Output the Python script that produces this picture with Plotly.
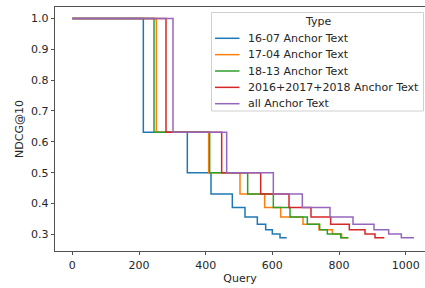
import plotly.graph_objects as go

# NDCG@10 levels (1/log2(rank+1))
levels = [1.0, 0.631, 0.5, 0.431, 0.387, 0.356, 0.333, 0.315, 0.301, 0.289]

series_names = [
    "16-07 Anchor Text",
    "17-04 Anchor Text",
    "18-13 Anchor Text",
    "2016+2017+2018 Anchor Text",
    "all Anchor Text",
]

# query index where each successive level begins (after the first), then the last query
q_16_07 = [0, 213, 345, 416, 480, 518, 555, 580, 600, 623, 643]
q_17_04 = [0, 252, 409, 503, 577, 625, 692, 740, 780, 808, 828]
q_18_13 = [0, 245, 412, 526, 603, 653, 705, 742, 765, 805, 828]
q_combined = [0, 281, 448, 565, 650, 716, 775, 831, 878, 908, 936]
q_all = [0, 302, 463, 603, 690, 773, 842, 905, 949, 987, 1025]

series_queries = [q_16_07, q_17_04, q_18_13, q_combined, q_all]
colors = ["#1f77b4", "#ff7f0e", "#2ca02c", "#d62728", "#9467bd"]

x_ticks = [0, 200, 400, 600, 800, 1000]
y_ticks = [0.3, 0.4, 0.5, 0.6, 0.7, 0.8, 0.9, 1.0]
legend_title = "Type"

W, H = 425, 288
ML, MR, MT, MB = 55, 0, 7, 37
PW, PH = W - ML - MR, H - MT - MB

fig = go.Figure()
for name, qs, c in zip(series_names, series_queries, colors):
    ys = levels + [levels[-1]]
    fig.add_trace(go.Scatter(
        x=qs, y=ys, mode="lines", name=name,
        line=dict(color=c, width=1.5, shape="hv"),
        showlegend=False,
    ))

font = dict(family="DejaVu Sans", size=11, color="#262626")


def px_x(p):
    return (p - ML) / PW


def px_y(p):
    return (H - MB - p) / PH


# legend (drawn in paper space, mimicking matplotlib's legend box)
shapes = []
annotations = []
box_l, box_r, box_t, box_b = 211.5, 423.5, 12.5, 111
shapes.append(dict(
    type="rect", xref="paper", yref="paper",
    x0=px_x(box_l), x1=px_x(box_r), y0=px_y(box_b), y1=px_y(box_t),
    line=dict(color="#d0d0d0", width=1), fillcolor="rgba(255,255,255,0.8)",
    layer="above",
))
annotations.append(dict(
    text=legend_title, xref="paper", yref="paper",
    x=px_x(318), y=px_y(21.7), xanchor="center", yanchor="middle",
    showarrow=False, font=font,
))
entry_y0, entry_dy = 38.3, 16.35
for i, (name, c) in enumerate(zip(series_names, colors)):
    yy = entry_y0 + i * entry_dy
    shapes.append(dict(
        type="line", xref="paper", yref="paper",
        x0=px_x(215), x1=px_x(239.5), y0=px_y(yy), y1=px_y(yy),
        line=dict(color=c, width=1.5), layer="above",
    ))
    annotations.append(dict(
        text=name, xref="paper", yref="paper",
        x=px_x(246), y=px_y(yy), xanchor="left", yanchor="middle",
        showarrow=False, font=font,
    ))

fig.update_layout(
    width=W, height=H,
    margin=dict(l=ML, r=MR, t=MT, b=MB),
    paper_bgcolor="white", plot_bgcolor="white",
    font=font,
    showlegend=False,
    shapes=shapes,
    annotations=annotations,
    xaxis=dict(
        range=[-52, 1058],
        tickmode="array", tickvals=x_ticks,
        ticks="outside", ticklen=3.5, tickwidth=0.8, tickcolor="#262626",
        showline=True, linecolor="#262626", linewidth=0.8, mirror=True,
        showgrid=False, zeroline=False,
        title=dict(text="Query", font=font, standoff=3),
    ),
    yaxis=dict(
        range=[0.246, 1.037],
        tickmode="array", tickvals=y_ticks, tickformat=".1f",
        ticks="outside", ticklen=3.5, tickwidth=0.8, tickcolor="#262626",
        showline=True, linecolor="#262626", linewidth=0.8, mirror=True,
        showgrid=False, zeroline=False,
        title=dict(text="NDCG@10", font=font, standoff=5),
    ),
)

fig.write_html(
    "out.html",
    config={"displayModeBar": False, "staticPlot": True},
    post_script="document.body.style.margin='0';document.body.style.padding='0';",
)
